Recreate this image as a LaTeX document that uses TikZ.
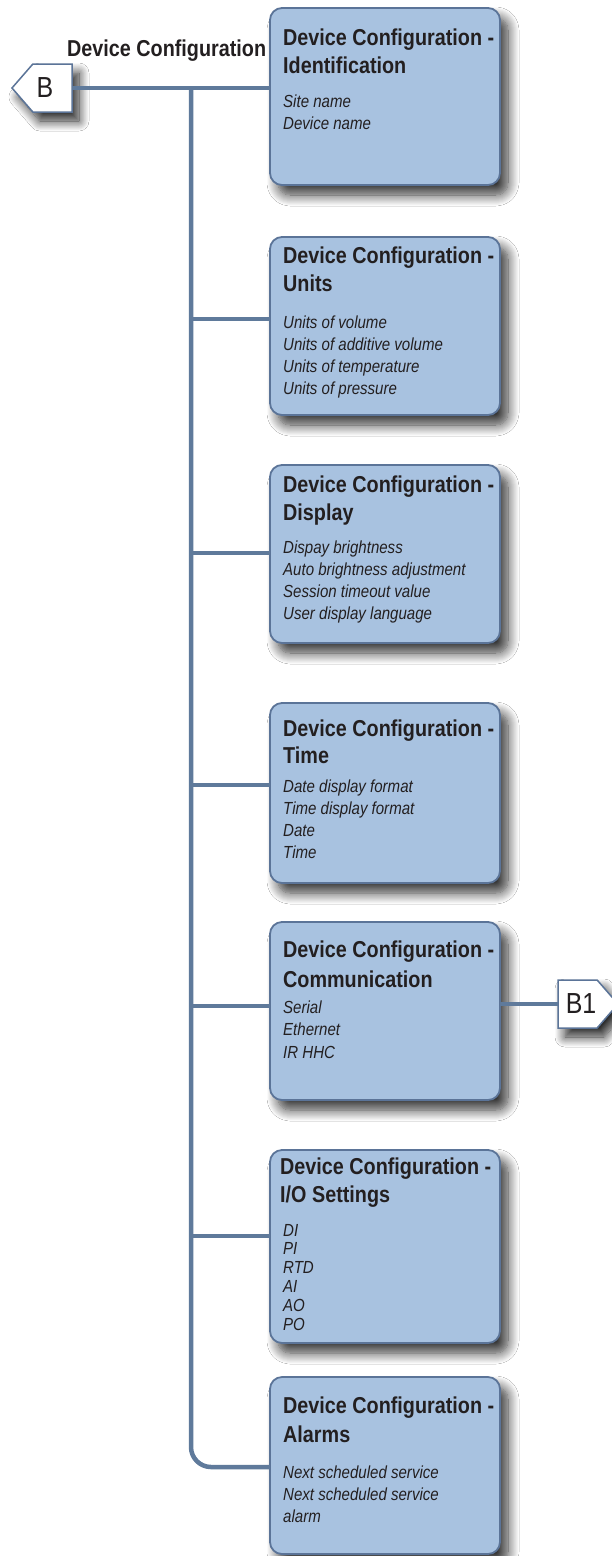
\documentclass[tikz,border=0pt]{standalone}
\usepackage{fontspec}
\setmainfont{Liberation Sans}[FakeStretch=0.86]
\usetikzlibrary{shapes.symbols,shadows.blur}
\definecolor{boxfill}{HTML}{A8C2E0}
\definecolor{boxline}{HTML}{5B7498}
\definecolor{connline}{HTML}{5F7A9B}
\definecolor{txt}{HTML}{231F20}
\tikzset{
  cfgbox/.style={draw=boxline, line width=1.8pt, fill=boxfill, rounded corners=12pt,
    minimum width=230pt, inner sep=0pt, outer sep=0pt, anchor=north west,
    blur shadow={shadow xshift=8pt, shadow yshift=-10pt, shadow blur radius=11pt, shadow opacity=80, shadow blur steps=12}},
  ttl/.style={anchor=base west, inner sep=0pt, font=\fontsize{23}{26}\selectfont\bfseries, text=txt},
  itm/.style={anchor=base west, inner sep=0pt, font=\fontsize{17.5}{20}\selectfont\itshape, text=txt},
  conn/.style={draw=connline, line width=4.5pt},
  tag/.style={signal, signal pointer angle=98, draw=boxline, line width=1.5pt, fill=white,
    minimum width=60pt, minimum height=48pt, inner sep=0pt, outer sep=0pt,
    blur shadow={shadow xshift=7pt, shadow yshift=-9pt, shadow blur radius=10pt, shadow opacity=85, shadow blur steps=12}},
  tagtxt/.style={inner sep=0pt, font=\fontsize{29}{30}\selectfont, text=txt},
}
\newcommand\cfgitems[4]{%
  \foreach \t [count=\k] in {#4} {\node[itm] (#1i\k) at (283,{#2+(\k-1)*#3}) {\t};}%
}
\begin{document}
\begin{tikzpicture}[x=1pt,y=-1pt]
\useasboundingbox (0,0) rectangle (612,1556);
\fill[white] (0,0) rectangle (612,1556);

% boxes
\node[cfgbox, minimum height=177pt] (box1) at (270,8) {};
\node[cfgbox, minimum height=178pt] (box2) at (270,237) {};
\node[cfgbox, minimum height=178pt] (box3) at (270,465) {};
\node[cfgbox, minimum height=180pt] (box4) at (270,703) {};
\node[cfgbox, minimum height=178pt] (box5) at (270,922) {};
\node[cfgbox, minimum height=193pt] (box6) at (270,1150) {};
\node[cfgbox, minimum height=177pt] (box7) at (270,1377) {};

% tags
\node[tag, signal to=west, anchor=east] (B) at (72,88) {};
\node[tagtxt] (Bt) at (45,88) {B};
\node[tag, signal to=east, anchor=west] (B1) at (558,1004) {};
\node[tagtxt] (B1t) at (581,1004) {B1};

% connectors
\coordinate (jtop) at (191,89);
\coordinate (j2) at (191,319);
\coordinate (j3) at (191,553);
\coordinate (j4) at (191,785);
\coordinate (j5) at (191,1006);
\coordinate (j6) at (191,1236);
\coordinate (jend) at (191,1467);
\draw[conn] (B.east) -- (B.east -| box1.west);
\draw[conn, rounded corners=20pt] (jtop) -- (jend) -- (jend -| box7.west);
\draw[conn] (j2) -- (j2 -| box2.west);
\draw[conn] (j3) -- (j3 -| box3.west);
\draw[conn] (j4) -- (j4 -| box4.west);
\draw[conn] (j5) -- (j5 -| box5.west);
\draw[conn] (j6) -- (j6 -| box6.west);
\draw[conn] (box5.east |- B1.west) -- (B1.west);

% label
\node[ttl] (lbl) at (67,56) {Device Configuration};

% box texts
\node[ttl] (b1t1) at (283,45) {Device Configuration -};
\node[ttl] (b1t2) at (283,73) {Identification};
\cfgitems{b1}{107}{22}{Site name,Device name}

\node[ttl] (b2t1) at (283,263) {Device Configuration -};
\node[ttl] (b2t2) at (283,291) {Units};
\cfgitems{b2}{328}{22.3}{Units of volume,Units of additive volume,Units of temperature,Units of pressure}

\node[ttl] (b3t1) at (283,492) {Device Configuration -};
\node[ttl] (b3t2) at (283,520) {Display};
\cfgitems{b3}{553}{22.3}{Dispay brightness,Auto brightness adjustment,Session timeout value,User display language}

\node[ttl] (b4t1) at (283,736) {Device Configuration -};
\node[ttl] (b4t2) at (283,763) {Time};
\cfgitems{b4}{792}{22}{Date display format,Time display format,Date,Time}

\node[ttl] (b5t1) at (283,957) {Device Configuration -};
\node[ttl] (b5t2) at (283,987) {Communication};
\cfgitems{b5}{1013}{22.5}{Serial,Ethernet,IR HHC}

\node[ttl] (b6t1) at (280,1174) {Device Configuration -};
\node[ttl] (b6t2) at (280,1202) {I/O Settings};
\cfgitems{b6}{1236}{18.8}{DI,PI,RTD,AI,AO,PO}

\node[ttl] (b7t1) at (283,1413) {Device Configuration -};
\node[ttl] (b7t2) at (283,1442) {Alarms};
\cfgitems{b7}{1478}{22}{Next scheduled service,Next scheduled service,alarm}
\end{tikzpicture}
\end{document}
